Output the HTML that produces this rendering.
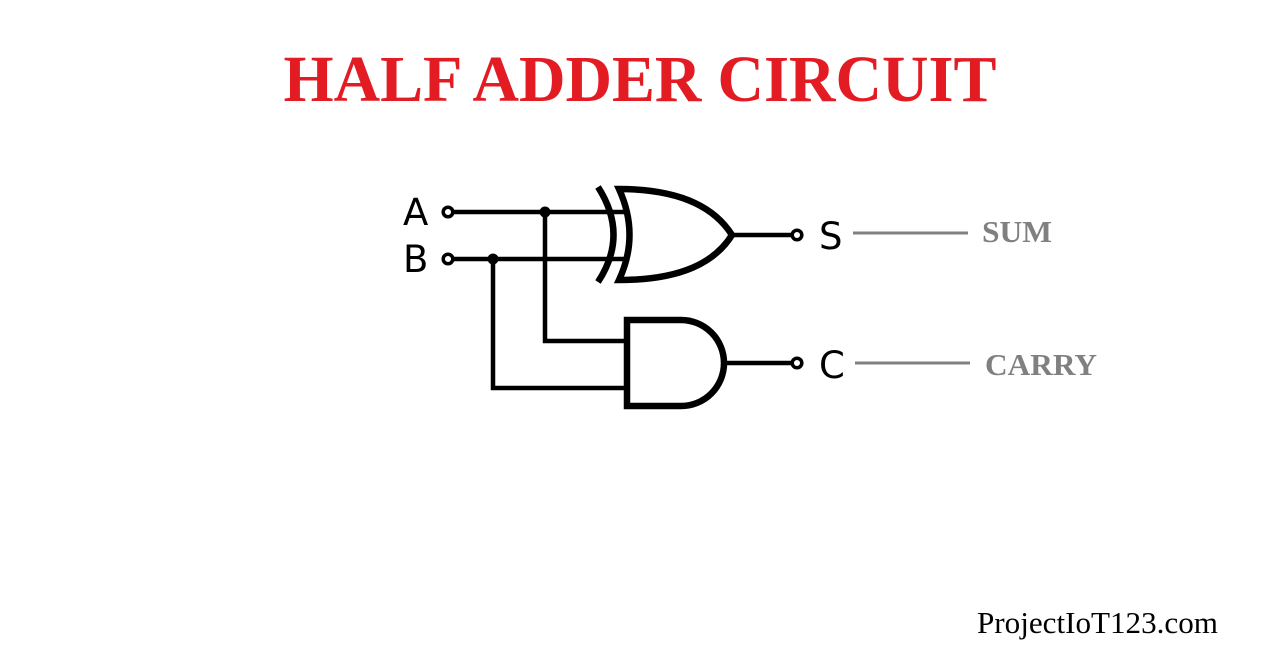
<!DOCTYPE html>
<html>
<head>
<meta charset="utf-8">
<style>
  html, body { margin:0; padding:0; background:#ffffff; }
  body { width:1274px; height:655px; overflow:hidden; }
  svg { display:block; }
</style>
</head>
<body>
<svg width="1274" height="655" viewBox="0 0 1274 655" xmlns="http://www.w3.org/2000/svg">
  <rect width="1274" height="655" fill="#ffffff"/>
  <!-- Title -->
  <text x="640" y="101" text-anchor="middle" font-family="'Liberation Serif', serif" font-weight="bold" font-size="66" fill="#e31b23" textLength="713" lengthAdjust="spacingAndGlyphs">HALF ADDER CIRCUIT</text>

  <!-- Wires -->
  <g stroke="#000" stroke-width="4.5" fill="none">
    <line x1="453" y1="212" x2="624" y2="212"/>
    <line x1="453" y1="259" x2="624" y2="259"/>
    <polyline points="545,212 545,341 628,341"/>
    <polyline points="493,259 493,388 628,388"/>
    <line x1="730" y1="235" x2="792" y2="235"/>
    <line x1="722" y1="363" x2="792" y2="363"/>
  </g>
  <circle cx="545" cy="212" r="5.5" fill="#000"/>
  <circle cx="493" cy="259" r="5.5" fill="#000"/>

  <!-- XOR gate -->
  <path d="M 598 187 Q 629 235 598 282" stroke="#000" stroke-width="6.5" fill="none"/>
  <path d="M 619 189 C 682 189 715 208 732 235 C 715 262 682 280 619 280 Q 640 235 619 189 Z" stroke="#000" stroke-width="6.5" fill="#fff" stroke-linejoin="miter"/>

  <!-- AND gate -->
  <path d="M 627 320 L 681 320 A 43 43 0 0 1 681 406 L 627 406 Z" stroke="#000" stroke-width="6.5" fill="#fff"/>

  <!-- Terminal circles -->
  <g stroke="#000" stroke-width="3.5" fill="#fff">
    <circle cx="448" cy="212" r="4.8"/>
    <circle cx="448" cy="259" r="4.8"/>
    <circle cx="797" cy="235" r="4.8"/>
    <circle cx="797" cy="363" r="4.8"/>
  </g>

  <!-- Labels -->
  <g font-family="'DejaVu Sans', sans-serif" font-size="37" fill="#000">
    <text x="403" y="225">A</text>
    <text x="403" y="272">B</text>
    <text x="819" y="249">S</text>
    <text x="819" y="378">C</text>
  </g>

  <!-- SUM / CARRY -->
  <line x1="853" y1="233" x2="968" y2="233" stroke="#808080" stroke-width="3"/>
  <line x1="855" y1="363" x2="970" y2="363" stroke="#808080" stroke-width="3"/>
  <text x="982" y="242" font-family="'Liberation Serif', serif" font-weight="bold" font-size="31" fill="#808080" textLength="70" lengthAdjust="spacingAndGlyphs">SUM</text>
  <text x="985" y="375" font-family="'Liberation Serif', serif" font-weight="bold" font-size="31" fill="#808080" textLength="112" lengthAdjust="spacingAndGlyphs">CARRY</text>

  <!-- Footer -->
  <text x="977" y="633" font-family="'Liberation Serif', serif" font-size="31" fill="#000" textLength="241" lengthAdjust="spacingAndGlyphs">ProjectIoT123.com</text>
</svg>
</body>
</html>
